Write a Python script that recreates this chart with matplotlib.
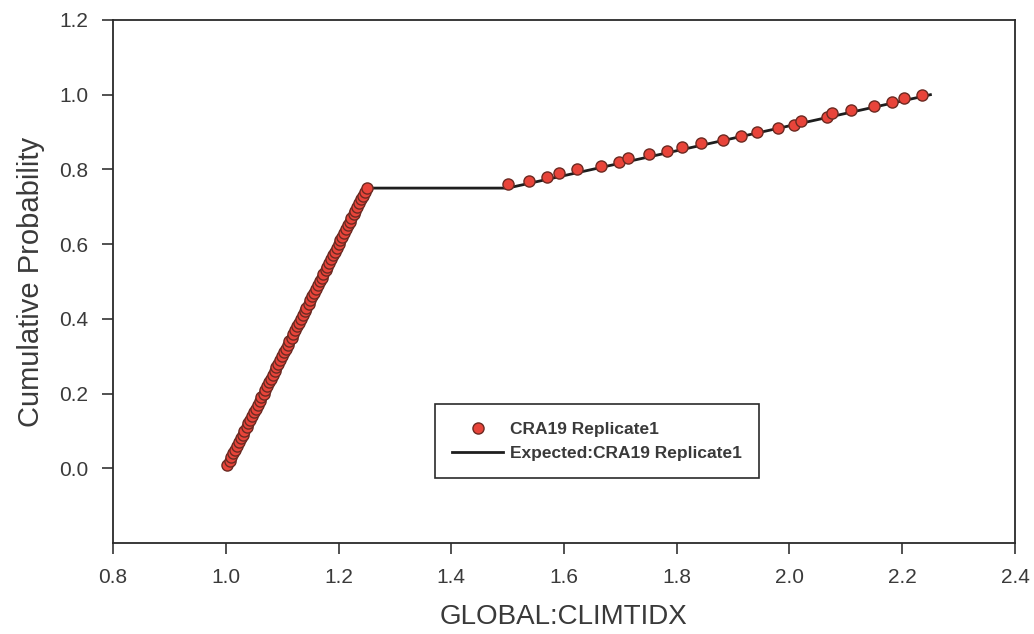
import matplotlib.pyplot as plt

plt.rcParams['font.family'] = ['Liberation Sans', 'DejaVu Sans']

# Observed values, lower block (steep part of the CDF)
x_low = [1.003, 1.007, 1.010, 1.013, 1.017, 1.020, 1.023, 1.027, 1.030, 1.033,
         1.037, 1.040, 1.043, 1.047, 1.050, 1.053, 1.057, 1.060, 1.063, 1.067,
         1.070, 1.073, 1.077, 1.080, 1.083, 1.087, 1.090, 1.093, 1.097, 1.100,
         1.103, 1.107, 1.110, 1.113, 1.117, 1.120, 1.123, 1.127, 1.130, 1.133,
         1.137, 1.140, 1.143, 1.147, 1.150, 1.153, 1.157, 1.160, 1.163, 1.167,
         1.170, 1.173, 1.177, 1.180, 1.183, 1.187, 1.190, 1.193, 1.197, 1.200,
         1.203, 1.207, 1.210, 1.213, 1.217, 1.220, 1.223, 1.227, 1.230, 1.233,
         1.237, 1.240, 1.243, 1.247, 1.250]
p_low = [0.01, 0.02, 0.03, 0.04, 0.05, 0.06, 0.07, 0.08, 0.09, 0.10,
         0.11, 0.12, 0.13, 0.14, 0.15, 0.16, 0.17, 0.18, 0.19, 0.20,
         0.21, 0.22, 0.23, 0.24, 0.25, 0.26, 0.27, 0.28, 0.29, 0.30,
         0.31, 0.32, 0.33, 0.34, 0.35, 0.36, 0.37, 0.38, 0.39, 0.40,
         0.41, 0.42, 0.43, 0.44, 0.45, 0.46, 0.47, 0.48, 0.49, 0.50,
         0.51, 0.52, 0.53, 0.54, 0.55, 0.56, 0.57, 0.58, 0.59, 0.60,
         0.61, 0.62, 0.63, 0.64, 0.65, 0.66, 0.67, 0.68, 0.69, 0.70,
         0.71, 0.72, 0.73, 0.74, 0.75]

# Observed values, upper block
x_high = [1.501, 1.538, 1.570, 1.591, 1.623, 1.666, 1.698, 1.714, 1.751, 1.783,
          1.809, 1.843, 1.882, 1.914, 1.942, 1.980, 2.008, 2.020, 2.067, 2.075,
          2.109, 2.150, 2.182, 2.203, 2.235]
p_high = [0.76, 0.77, 0.78, 0.79, 0.80, 0.81, 0.82, 0.83, 0.84, 0.85,
          0.86, 0.87, 0.88, 0.89, 0.90, 0.91, 0.92, 0.93, 0.94, 0.95,
          0.96, 0.97, 0.98, 0.99, 1.00]

# Expected (theoretical) CDF
x_expected = [1.0, 1.25, 1.5, 2.25]
p_expected = [0.0, 0.75, 0.75, 1.0]

text_col = '#3a3a3a'

fig = plt.figure(figsize=(10.34, 6.34), dpi=100)
ax = fig.add_axes([0.1093, 0.1435, 0.8723, 0.825])

ax.plot(x_expected, p_expected, color='#1e1e1e', lw=2.0, zorder=2,
        label='Expected:CRA19 Replicate1')
ax.plot(x_low + x_high, p_low + p_high, ls='none', marker='o', ms=8,
        mfc='#e8443a', mec='#6b2a22', mew=1.0, zorder=3,
        label='CRA19 Replicate1')

ax.set_xlim(0.8, 2.4)
ax.set_ylim(-0.2, 1.2)
ax.set_xticks([0.8, 1.0, 1.2, 1.4, 1.6, 1.8, 2.0, 2.2, 2.4])
ax.set_yticks([0.0, 0.2, 0.4, 0.6, 0.8, 1.0, 1.2])
ax.xaxis.set_major_formatter(plt.FormatStrFormatter('%.1f'))
ax.yaxis.set_major_formatter(plt.FormatStrFormatter('%.1f'))
ax.tick_params(direction='out', length=8, width=1.2, colors='#333333',
               labelsize=15, labelcolor=text_col, pad=10)
for sp in ax.spines.values():
    sp.set_color('#2a2a2a')
    sp.set_linewidth(1.3)

ax.set_xlabel('GLOBAL:CLIMTIDX', fontsize=20, color=text_col, labelpad=12)
ax.set_ylabel('Cumulative Probability', fontsize=21, color=text_col, labelpad=10)

h, l = ax.get_legend_handles_labels()
leg = ax.legend(h[::-1], l[::-1], loc='lower left', bbox_to_anchor=(0.357, 0.124),
                fancybox=False, framealpha=1, edgecolor='#2a2a2a',
                prop={'weight': 'bold', 'size': 12.5}, handlelength=2.9,
                borderpad=1.0, borderaxespad=0, labelspacing=0.5,
                handletextpad=0.4)
leg.get_frame().set_linewidth(1.2)
for t in leg.get_texts():
    t.set_color(text_col)

fig.savefig('out.png', dpi=100)
